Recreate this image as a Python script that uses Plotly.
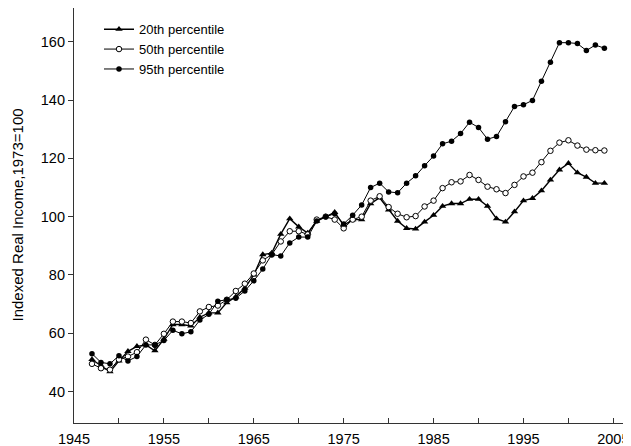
import plotly.graph_objects as go

years = list(range(1947, 2005))

p20 = [51, 49, 46.8, 50.5, 53.8, 55.5, 56, 54, 58,
       63, 63, 62.5, 65.5, 67, 67, 70.5, 72.5, 75.5, 80, 87, 87.5, 94, 99.3,
       96.5, 94.4, 98.5, 100, 101.5, 97, 99, 99, 104.5, 106.5, 102.3, 98.5,
       96, 95.8, 98.2, 100.5, 103.6, 104.5, 104.5, 106, 106, 103.6, 99.3,
       98.2, 101.7, 105.5, 106.3, 108.9, 112.6, 116.1, 118.3, 115.1, 113.6,
       111.5, 111.5]

p50 = [49.5, 48, 47.5, 51, 52, 53.5, 57.8, 56, 59.8,
       64, 64, 63.5, 67.5, 69, 69.5, 71.5, 74.5, 77, 80.5, 85, 87, 91.5, 95,
       95, 93.9, 99, 100, 99, 96, 99, 100, 105.5, 107, 103.3, 101,
       99.8, 100.2, 103.5, 105.5, 109.8, 111.8, 112.1, 114.3, 112.6, 110.3,
       109.4, 108.1, 110.9, 113.8, 115.1, 118.7, 122.6, 125.4, 126.2, 124.4,
       123, 122.8, 122.7]

p95 = [53, 50, 49.5, 52.3, 50.5, 52, 56, 56, 57.5,
       61, 59.8, 60.5, 64.5, 66.5, 71, 71.5, 72, 74.5, 78, 82, 87, 86.5, 91,
       93, 93, 98.5, 100, 101, 97.5, 100.5, 104, 110, 111.5, 108.5, 108.2,
       111.5, 114, 117.5, 120.8, 125, 125.9, 128.5, 132.4, 130.6, 126.6,
       127.5, 132.6, 137.8, 138.4, 139.9, 146.5, 153, 159.7, 159.7, 159.4,
       157, 158.9, 157.8]

series_names = ["20th percentile", "50th percentile", "95th percentile"]

x_tickvals = list(range(1945, 2010, 5))
x_ticktext = [str(v) if (v - 1945) % 10 == 0 else "" for v in x_tickvals]
y_tickvals = [40, 60, 80, 100, 120, 140, 160]

font_family = "Liberation Sans, Arial, Helvetica, sans-serif"

# page body has an 8px margin, so the figure is sized/offset to compensate
W, H = 623, 438
L, R, T, B = 66, 1, 0, 23
plot_w = W - L - R

fig = go.Figure()
fig.add_trace(go.Scatter(
    x=years, y=p20, name=series_names[0], mode="lines+markers",
    line=dict(color="black", width=1.4),
    marker=dict(symbol="triangle-up", size=6.5, color="black", line=dict(width=0))))
fig.add_trace(go.Scatter(
    x=years, y=p50, name=series_names[1], mode="lines+markers",
    line=dict(color="black", width=1),
    marker=dict(symbol="circle", size=5.5, color="white", line=dict(color="black", width=1))))
fig.add_trace(go.Scatter(
    x=years, y=p95, name=series_names[2], mode="lines+markers",
    line=dict(color="black", width=1),
    marker=dict(symbol="circle", size=5.5, color="black", line=dict(width=0))))

fig.update_layout(
    width=W, height=H,
    margin=dict(l=L, r=R, t=T, b=B, autoexpand=False),
    paper_bgcolor="white", plot_bgcolor="white",
    font=dict(family=font_family, color="black", size=14.5),
    showlegend=True,
    legend=dict(x=25 / plot_w, y=0.985, xanchor="left", yanchor="top",
                font=dict(size=13, family=font_family, color="black"),
                bgcolor="rgba(255,255,255,0)", borderwidth=0),
    xaxis=dict(range=[1945, 2006.85], tickvals=x_tickvals, ticktext=x_ticktext,
               ticks="inside", ticklen=5, tickcolor="#333", tickwidth=1,
               ticklabelstandoff=2,
               showline=True, linecolor="#333", linewidth=1.2, mirror=True,
               showgrid=False, zeroline=False,
               tickfont=dict(size=14.5, family=font_family, color="black")),
    yaxis=dict(range=[29.2, 171.6], tickvals=y_tickvals,
               ticks="outside", ticklen=5, tickcolor="#333", tickwidth=1,
               showline=True, linecolor="#333", linewidth=1.2, mirror=True,
               showgrid=False, zeroline=False,
               tickfont=dict(size=14.5, family=font_family, color="black")),
    annotations=[dict(text="Indexed Real Income,1973=100", textangle=-90,
                      xref="paper", yref="paper", x=(9 - L) / plot_w, y=0.5,
                      xanchor="center", yanchor="middle", showarrow=False,
                      font=dict(size=15, family=font_family, color="black"))],
)

fig.write_html("out.html")
